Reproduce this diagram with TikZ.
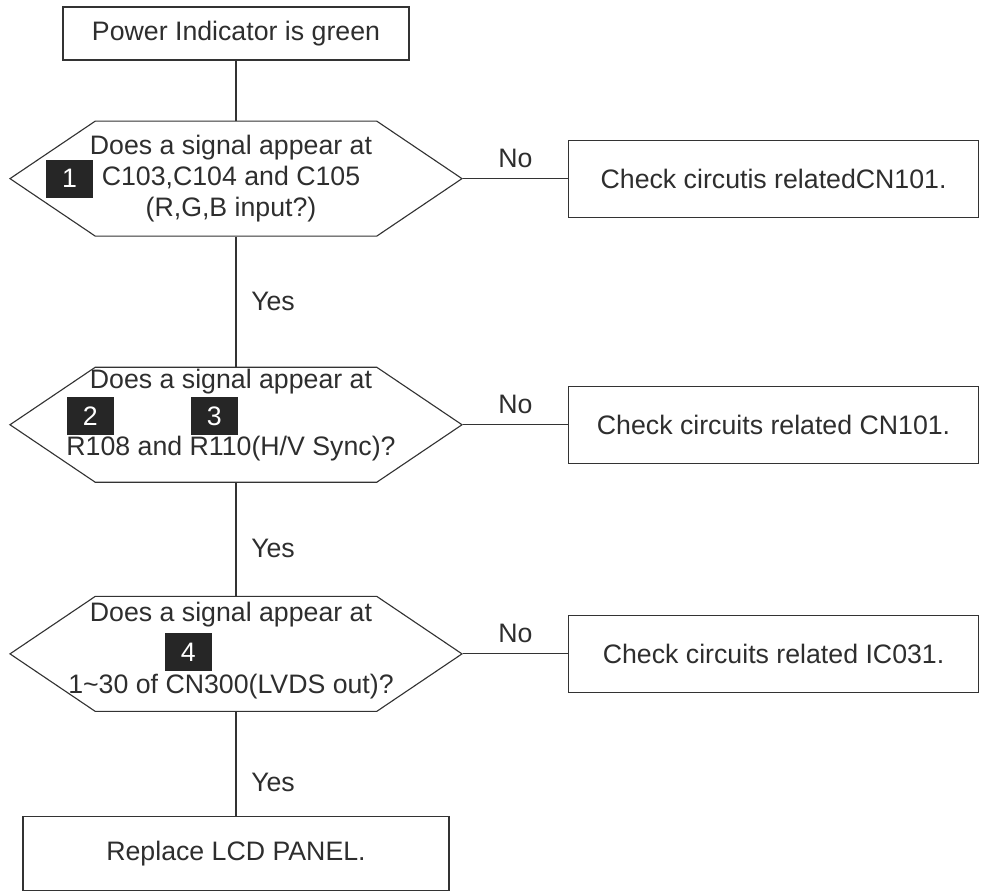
\documentclass[tikz,border=0pt]{standalone}
\usepackage{fontspec}
\setmainfont{Liberation Sans}
\usepackage{tikz}
\usetikzlibrary{positioning,shapes.symbols}
\definecolor{linegray}{HTML}{333333}
\definecolor{textgray}{HTML}{2E2E2E}
\definecolor{tagblack}{HTML}{262626}
\newcommand{\flowfont}{\fontsize{19}{21.3}\selectfont}
\newcommand{\ql}[1]{\makebox[0pt]{#1\kern0.25cm}}% question line, may run over the slanted edges
\tikzset{
  flowbox/.style={rectangle, draw=linegray, line width=0.8pt, text=textgray, font=\flowfont, inner sep=0pt},
  checkbox/.style={flowbox, minimum width=10.25cm, minimum height=1.925cm},
  question/.style={signal, signal to=west and east, signal pointer angle=68, draw=linegray, line width=0.8pt,
                   text=textgray, font=\flowfont, align=center, minimum width=11.3cm, minimum height=2.875cm, inner sep=0pt},
  tag/.style={rectangle, fill=tagblack, text=white, font=\flowfont, minimum width=1.175cm, minimum height=0.95cm, inner sep=0pt},
  link/.style={draw=linegray, line width=0.8pt},
  answer/.style={text=textgray, font=\flowfont},
}

\begin{document}
\begin{tikzpicture}
\useasboundingbox (0,0) rectangle (24.875,-22.4);
%Nodes
\node[flowbox, minimum width=8.65cm, minimum height=1.325cm] (start) at (5.9,-0.8375) {Power Indicator is green};
\node[question, font=\fontsize{19}{22}\selectfont] (q1) [below=1.5cm of start]
  {\ql{Does a signal appear at}\\\ql{C103,C104 and C105}\\\ql{(R,G,B input?)}};
\node[question, font=\fontsize{19}{22.4}\selectfont] (q2) [below=3.25cm of q1]
  {\ql{Does a signal appear at}\\\mbox{}\\[2.5pt]\ql{R108 and R110(H/V Sync)?}\\[-4.5pt]\mbox{}};
\node[question, font=\fontsize{19}{25.6}\selectfont] (q3) [below=2.825cm of q2]
  {\ql{Does a signal appear at}\\\mbox{}\\\ql{1\textasciitilde30 of CN300(LVDS out)?}\\[-16.7pt]\mbox{}};
\node[flowbox, minimum width=10.65cm, minimum height=1.85cm] (fix) [below=2.6cm of q3] {Replace LCD PANEL.};

\node[checkbox] (c1) [right=2.625cm of q1] {Check circutis relatedCN101.};
\node[checkbox] (c2) [right=2.625cm of q2] {Check circuits related CN101.};
\node[checkbox] (c3) [right=2.625cm of q3] {Check circuits related IC031.};

\node[tag] (t1) at ([xshift=-4.16cm]q1.center) {1};
\node[tag] (t2) at ([xshift=-3.64cm, yshift=0.21cm]q2.center) {2};
\node[tag] (t3) at ([xshift=-0.54cm, yshift=0.21cm]q2.center) {3};
\node[tag] (t4) at ([xshift=-1.19cm, yshift=0.05cm]q3.center) {4};

%Lines
\draw[link] (start) -- (q1);
\draw[link] (q1) -- (q2) node[midway, right=0.25cm, answer] {Yes};
\draw[link] (q2) -- (q3) node[pos=0.58, right=0.25cm, answer] {Yes};
\draw[link] (q3) -- (fix) node[pos=0.68, right=0.25cm, answer] {Yes};
\draw[link] (q1.east) -- (c1.west) node[midway, above=0.15cm, answer] {No};
\draw[link] (q2.east) -- (c2.west) node[midway, above=0.15cm, answer] {No};
\draw[link] (q3.east) -- (c3.west) node[midway, above=0.15cm, answer] {No};
\end{tikzpicture}
\end{document}
